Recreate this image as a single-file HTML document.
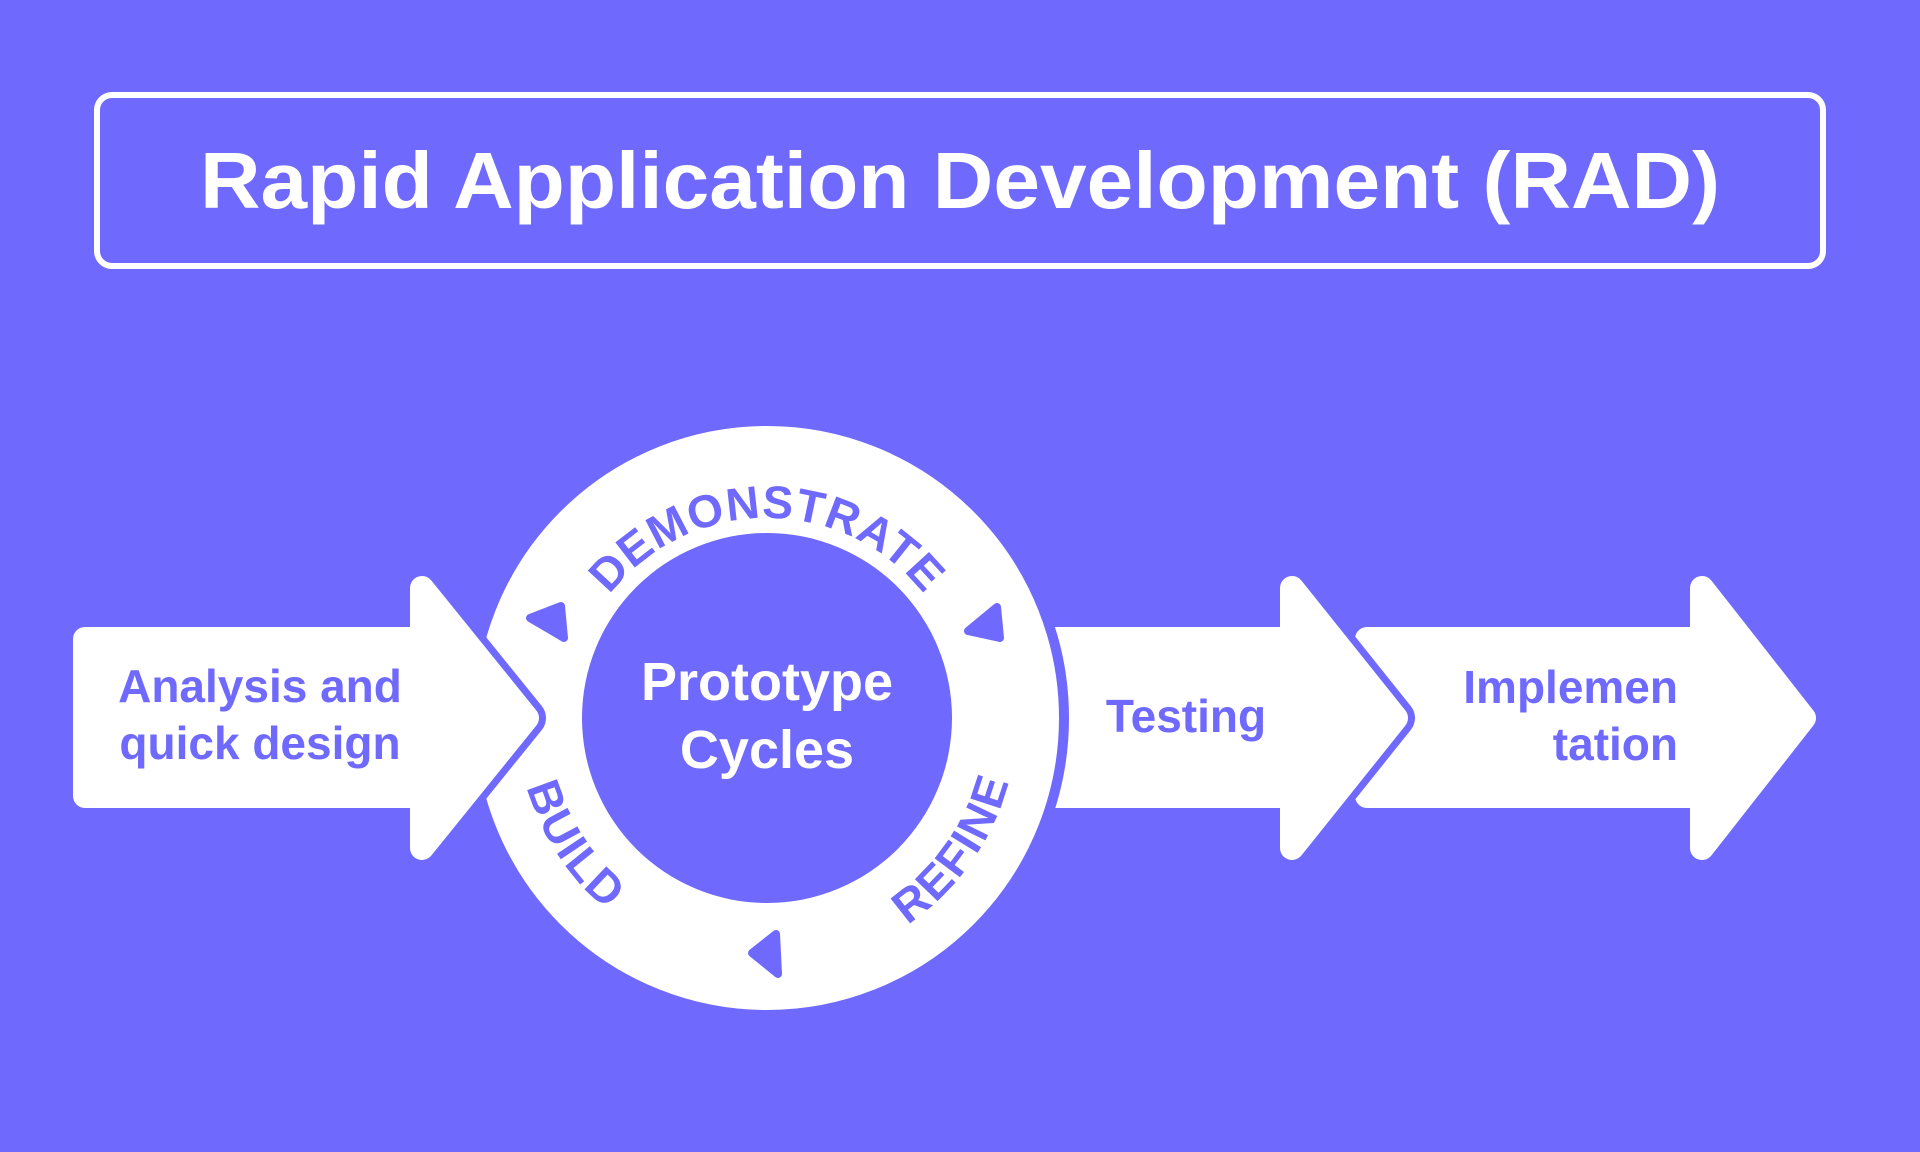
<!DOCTYPE html>
<html><head><meta charset="utf-8"><style>
html,body{margin:0;padding:0;background:#6f69fd;}
svg{display:block;font-family:"Liberation Sans",sans-serif;font-weight:bold;}
text{font-weight:bold;}
</style></head><body>
<svg width="1920" height="1152" viewBox="0 0 1920 1152" xmlns="http://www.w3.org/2000/svg">
<rect width="1920" height="1152" fill="#6f69fd"/>
<rect x="97" y="95" width="1726" height="171" rx="15" fill="none" stroke="#fff" stroke-width="6"/>
<text x="960" y="208" font-size="80" fill="#fff" text-anchor="middle" textLength="1520" lengthAdjust="spacingAndGlyphs">Rapid Application Development (RAD)</text>

<!-- Implementation arrow -->
<polygon points="1367,639 1702,639 1702,588 1804,718 1702,848 1702,796 1367,796" fill="#fff" stroke="#fff" stroke-width="24" stroke-linejoin="round"/>
<!-- Testing arrow -->
<polygon points="1040,639 1292,639 1292,588 1396,718 1292,848 1292,796 1040,796" fill="#6f69fd" stroke="#6f69fd" stroke-width="38" stroke-linejoin="round"/>
<polygon points="1040,639 1292,639 1292,588 1396,718 1292,848 1292,796 1040,796" fill="#fff" stroke="#fff" stroke-width="24" stroke-linejoin="round"/>
<!-- circle -->
<circle cx="767" cy="718" r="297" fill="#fff" stroke="#6f69fd" stroke-width="10"/>
<circle cx="767" cy="718" r="185" fill="#6f69fd"/>
<!-- left arrow -->
<polygon points="85,639 422,639 422,588 527,718 422,848 422,796 85,796" fill="#6f69fd" stroke="#6f69fd" stroke-width="38" stroke-linejoin="round"/>
<polygon points="85,639 422,639 422,588 527,718 422,848 422,796 85,796" fill="#fff" stroke="#fff" stroke-width="24" stroke-linejoin="round"/>

<defs>
<path id="top" d="M 567,718 A 200,200 0 0 1 967,718"/>
<path id="bot" d="M 517,718 A 250,250 0 0 0 1017,718"/>
</defs>
<text font-size="46" font-weight="bold" fill="#6f69fd"><textPath href="#top" startOffset="50%" text-anchor="middle" letter-spacing="1">DEMONSTRATE</textPath></text>
<text font-size="46" font-weight="bold" fill="#6f69fd"><textPath href="#bot" startOffset="18.5%" text-anchor="middle" letter-spacing="2">BUILD</textPath></text>
<text font-size="46" font-weight="bold" fill="#6f69fd"><textPath href="#bot" startOffset="80.5%" text-anchor="middle" letter-spacing="2">REFINE</textPath></text>

<g fill="#6f69fd" stroke="#6f69fd" stroke-width="8" stroke-linejoin="round">
<polygon points="530,618 561,606 564,638"/>
<polygon points="968,631 997,607 1000,638"/>
<polygon points="752,953 776,934 778,974"/>
</g>

<text x="767" y="700" font-size="54" fill="#fff" text-anchor="middle">Prototype</text>
<text x="767" y="768" font-size="54" fill="#fff" text-anchor="middle">Cycles</text>

<g fill="#6f69fd" font-size="46">
<text x="260" y="702" text-anchor="middle">Analysis and</text>
<text x="260" y="759" text-anchor="middle">quick design</text>
<text x="1186" y="732" text-anchor="middle">Testing</text>
<text x="1678" y="703" text-anchor="end">Implemen</text>
<text x="1678" y="760" text-anchor="end">tation</text>
</g>
</svg>
</body></html>
